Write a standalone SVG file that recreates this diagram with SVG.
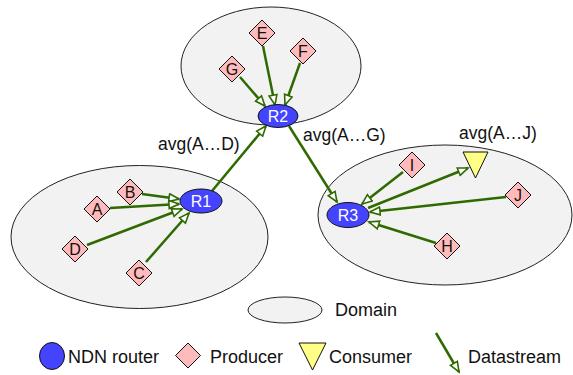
<svg xmlns="http://www.w3.org/2000/svg" width="573" height="375" viewBox="0 0 573 375">
<defs>
<marker id="ah" markerUnits="userSpaceOnUse" markerWidth="14" markerHeight="12" refX="11" refY="5" orient="auto">
<path d="M1,1 L11,5 L1,9 z" fill="#fff" stroke="#2f6a00" stroke-width="1.6"/>
</marker>
</defs>
<style>
.dom{fill:#f2f2f2;stroke:#222;stroke-width:1}
.rt{fill:#4444ff;stroke:#111;stroke-width:1}
.pr{fill:#ffbbbb;stroke:#111;stroke-width:1}
.cs{fill:#ffff88;stroke:#111;stroke-width:1}
.ds{stroke:#2f6a00;stroke-width:2.5;fill:none;marker-end:url(#ah)}
text{font-family:"Liberation Sans",Arial,sans-serif}
.rl{fill:#fff;font-size:16px;text-anchor:middle}
.pl{fill:#111;font-size:16px;text-anchor:middle}
.lb{fill:#111;font-size:17.5px}
.lg{fill:#111;font-size:18px}
</style>
<g id="domains">
<ellipse class="dom" cx="271" cy="66" rx="90" ry="59"/>
<ellipse class="dom" cx="139.5" cy="237" rx="128.5" ry="71.5"/>
<ellipse class="dom" cx="445" cy="215" rx="127" ry="70"/>
</g>
<g id="connectors">
<line class="ds" x1="263" y1="46" x2="275" y2="105"/>
<line class="ds" x1="300" y1="63" x2="285" y2="105"/>
<line class="ds" x1="240" y1="77" x2="265" y2="106"/>
<line class="ds" x1="212" y1="191" x2="266" y2="126"/>
<line class="ds" x1="142" y1="194" x2="179" y2="199"/>
<line class="ds" x1="110" y1="208" x2="179" y2="204"/>
<line class="ds" x1="87" y1="245" x2="182" y2="209"/>
<line class="ds" x1="146" y1="262" x2="189" y2="213"/>
<line class="ds" x1="289" y1="126" x2="337" y2="202"/>
<line class="ds" x1="403" y1="172" x2="362" y2="204"/>
<line class="ds" x1="368" y1="208" x2="468" y2="168"/>
<line class="ds" x1="506" y1="197" x2="370" y2="212"/>
<line class="ds" x1="436" y1="243" x2="369" y2="222"/>
</g>
<g id="R2"><ellipse class="rt" cx="278" cy="116" rx="20" ry="11.5"/><text class="rl" x="278" y="122">R2</text></g>
<g id="R1"><ellipse class="rt" cx="201" cy="201" rx="21" ry="12"/><text class="rl" x="201" y="207">R1</text></g>
<g id="R3"><ellipse class="rt" cx="348" cy="215" rx="21" ry="12.5"/><text class="rl" x="348" y="221">R3</text></g>
<g id="E"><path class="pr" d="M262,20 L275,33 L262,46 L249,33 z"/><text class="pl" x="262" y="39">E</text></g>
<g id="F"><path class="pr" d="M303,38 L316,51 L303,64 L290,51 z"/><text class="pl" x="303" y="57">F</text></g>
<g id="G"><path class="pr" d="M232,56 L245,69 L232,82 L219,69 z"/><text class="pl" x="232" y="75">G</text></g>
<g id="B"><path class="pr" d="M130,179 L143,192 L130,205 L117,192 z"/><text class="pl" x="130" y="198">B</text></g>
<g id="A"><path class="pr" d="M97,196 L110,209 L97,222 L84,209 z"/><text class="pl" x="97" y="215">A</text></g>
<g id="D"><path class="pr" d="M75,236 L88,249 L75,262 L62,249 z"/><text class="pl" x="75" y="255">D</text></g>
<g id="C"><path class="pr" d="M139,260 L152,273 L139,286 L126,273 z"/><text class="pl" x="139" y="279">C</text></g>
<g id="I"><path class="pr" d="M412,152 L425,165 L412,178 L399,165 z"/><text class="pl" x="412" y="171">I</text></g>
<g id="J"><path class="pr" d="M518,182 L531,195 L518,208 L505,195 z"/><text class="pl" x="518" y="201">J</text></g>
<g id="H"><path class="pr" d="M447,233 L460,246 L447,259 L434,246 z"/><text class="pl" x="447" y="252">H</text></g>
<g id="Consumer"><path class="cs" d="M463,152 L488,152 L475.5,178 z"/></g>
<g id="labels">
<text class="lb" x="158" y="150">avg(A…D)</text>
<text class="lb" x="303" y="141">avg(A…G)</text>
<text class="lb" x="459" y="139">avg(A…J)</text>
</g>
<g id="legend">
<ellipse class="dom" cx="285" cy="310" rx="37" ry="13"/>
<text class="lg" x="335" y="316">Domain</text>
<ellipse class="rt" cx="52" cy="356" rx="12.5" ry="13.5"/>
<text class="lg" x="68" y="363">NDN router</text>
<path class="pr" d="M188,343 L200.5,355.5 L188,368 L175.5,355.5 z"/>
<text class="lg" x="210" y="363">Producer</text>
<path class="cs" d="M299,343 L326,343 L312.5,370 z"/>
<text class="lg" x="329" y="363">Consumer</text>
<line class="ds" x1="436" y1="333" x2="459" y2="372"/>
<text class="lg" x="468" y="363">Datastream</text>
</g>
</svg>
